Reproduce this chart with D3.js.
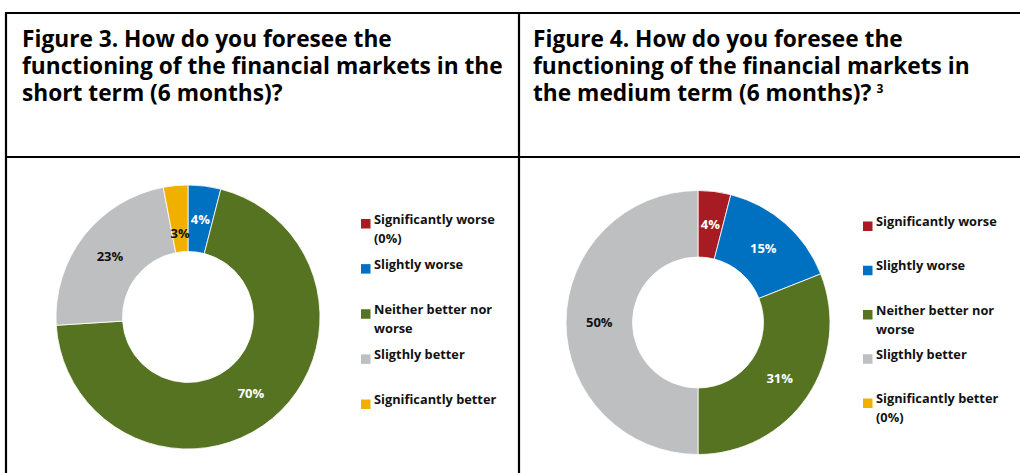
<!DOCTYPE html>
<html>
<head>
<meta charset="utf-8">
<script src="https://cdn.jsdelivr.net/npm/d3@7"></script>
<style>
  html, body { margin: 0; padding: 0; background: #fff; }
  svg text { font-family: "Open Sans", Lato, sans-serif; }
</style>
</head>
<body>
<svg id="chart" width="1020" height="473"></svg>
<script>
// Response categories (shared by both figures)
const categories = [
  "Significantly worse",
  "Slightly worse",
  "Neither better nor worse",
  "Sligthly better",
  "Significantly better"
];
const categoryColors = ["#a61c22", "#0070c0", "#557321", "#bebfc1", "#f1b000"];

// Share of answers (%) per category
const shortTermValues = [0, 4, 70, 23, 3];
const mediumTermValues = [4, 15, 31, 50, 0];

// Slice-label text colour per category (dark on light slices)
const labelColors = ["#ffffff", "#ffffff", "#ffffff", "#111111", "#111111"];

// Figure titles, one array per figure, one entry per line
const shortTermTitle = [
  "Figure 3. How do you foresee the",
  "functioning of the financial markets in the",
  "short term (6 months)?"
];
const mediumTermTitle = [
  "Figure 4. How do you foresee the",
  "functioning of the financial markets in",
  "the medium term (6 months)?"
];
const mediumTermFootnote = "3";

const svg = d3.select("#chart");

// ---- table frame ----
const frame = svg.append("g").attr("stroke", "#000").attr("stroke-width", 2.2);
frame.append("line").attr("x1", 5).attr("x2", 1020).attr("y1", 13).attr("y2", 13);
frame.append("line").attr("x1", 5).attr("x2", 1020).attr("y1", 157).attr("y2", 157);
frame.append("line").attr("x1", 6).attr("x2", 6).attr("y1", 12).attr("y2", 473);
frame.append("line").attr("x1", 519).attr("x2", 519).attr("y1", 12).attr("y2", 473);

const panels = [
  { title: shortTermTitle, footnote: null, values: shortTermValues,
    titleX: 22, cx: 188, cy: 317, legendX: 361, legendY: [223.5, 404] },
  { title: mediumTermTitle, footnote: mediumTermFootnote, values: mediumTermValues,
    titleX: 533, cx: 698, cy: 322.5, legendX: 863, legendY: [226, 403] }
];

// title size: the long second line of Figure 3 fills the cell (~481px)
const probe = svg.append("text").attr("font-size", 20).attr("font-weight", 700).text(shortTermTitle[1]);
const titleSize = 20 * 481 / probe.node().getComputedTextLength();
probe.remove();

const outerR = 132, innerR = 65.5;
const pie = d3.pie().sort(null).value(d => d.value);
const arc = d3.arc().innerRadius(innerR).outerRadius(outerR);

panels.forEach(p => {
  const g = svg.append("g");

  // title
  const title = g.append("text")
    .attr("x", p.titleX).attr("y", 47)
    .attr("font-size", titleSize).attr("font-weight", 700).attr("fill", "#000");
  p.title.forEach((line, i) => {
    title.append("tspan").attr("x", p.titleX).attr("dy", i === 0 ? 0 : 26.8).text(line);
  });
  if (p.footnote) {
    title.append("tspan").attr("dx", 5).attr("dy", -8).attr("font-size", 12).text(p.footnote);
  }

  // donut
  const data = categories.map((c, i) => ({ cat: c, value: p.values[i], i }));
  const arcs = pie(data);
  const donut = g.append("g").attr("transform", `translate(${p.cx},${p.cy})`);
  donut.selectAll("path").data(arcs.filter(a => a.data.value > 0)).join("path")
    .attr("d", arc)
    .attr("fill", d => categoryColors[d.data.i])
    .attr("stroke", "#fff").attr("stroke-width", 0.8);

  // slice labels at the ring's mid radius; pushed inward when they collide
  const placed = [];
  const midR = (innerR + outerR) / 2;
  arcs.filter(a => a.data.value > 0).forEach(a => {
    const ang = (a.startAngle + a.endAngle) / 2;
    const t = donut.append("text")
      .attr("text-anchor", "middle").attr("dy", "0.35em")
      .attr("font-size", 13).attr("font-weight", 700)
      .attr("fill", labelColors[a.data.i])
      .text(a.data.value + "%");
    const w = t.node().getComputedTextLength() + 6, h = 14;
    let x, y;
    for (let r = midR; r > innerR; r -= 0.5) {
      x = Math.sin(ang) * r; y = -Math.cos(ang) * r;
      const box = { x0: x - w / 2, x1: x + w / 2, y0: y - h / 2, y1: y + h / 2 };
      const hit = placed.some(b => box.x0 < b.x1 && box.x1 > b.x0 && box.y0 < b.y1 && box.y1 > b.y0);
      if (!hit) { placed.push(box); break; }
    }
    t.attr("x", x).attr("y", y);
  });

  // legend
  const ly = d3.scalePoint().domain(categories).range(p.legendY);
  const maxW = 136;
  const legend = g.append("g");
  data.forEach(d => {
    const y = ly(d.cat);
    legend.append("rect")
      .attr("x", p.legendX).attr("y", y - 4.5).attr("width", 9.5).attr("height", 9.5)
      .attr("fill", categoryColors[d.i]);
    const label = d.value === 0 ? d.cat + " (0%)" : d.cat;
    const t = legend.append("text")
      .attr("x", p.legendX + 13).attr("y", y).attr("dy", "0.35em")
      .attr("font-size", 12.8).attr("font-weight", 700).attr("fill", "#111");
    // word-wrap to the legend column width
    const words = label.split(" ");
    let line = [];
    let ts = t.append("tspan").attr("x", p.legendX + 13).attr("dy", 0);
    words.forEach(wd => {
      line.push(wd);
      ts.text(line.join(" "));
      if (ts.node().getComputedTextLength() > maxW && line.length > 1) {
        line.pop();
        ts.text(line.join(" "));
        line = [wd];
        ts = t.append("tspan").attr("x", p.legendX + 13).attr("dy", 19).text(wd);
      }
    });
  });
});
</script>
</body>
</html>
